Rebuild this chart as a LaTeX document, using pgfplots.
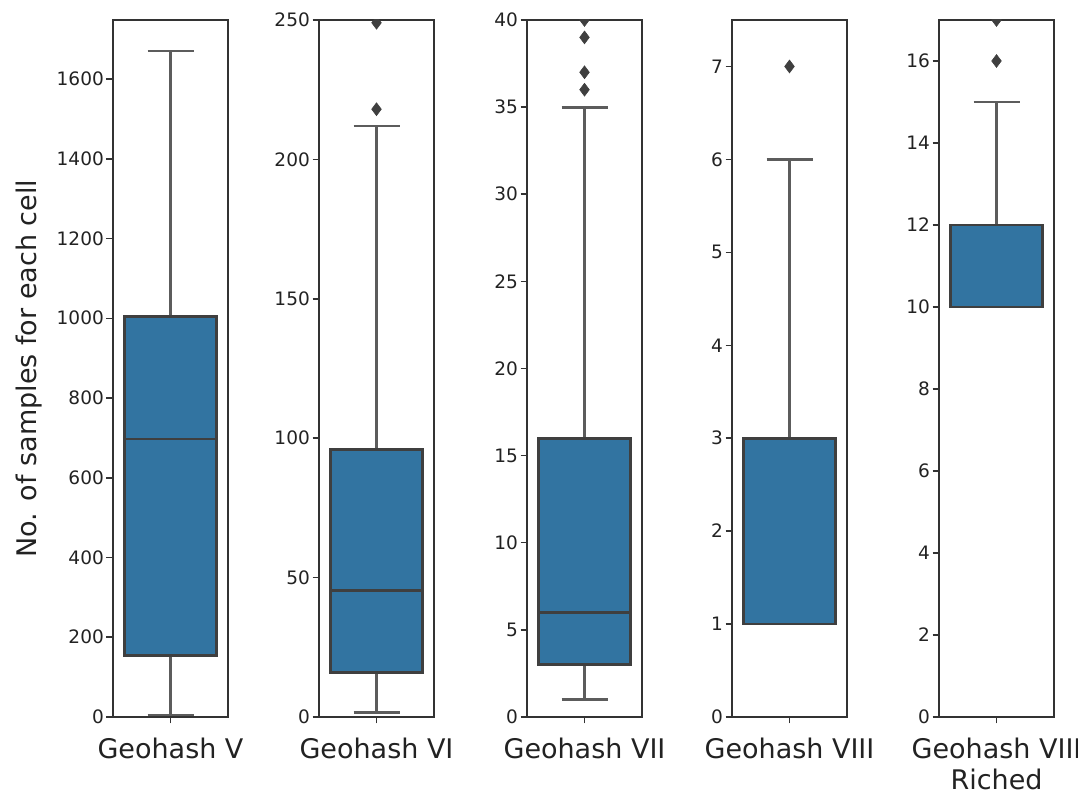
\documentclass[border=0pt]{standalone}
\usepackage{pgfplots}
\pgfplotsset{compat=1.18}
\usepackage{fontspec}
\setmainfont{DejaVu Sans}
\definecolor{sbblue}{HTML}{3274A1}
\definecolor{sbgray}{HTML}{3F3F3F}
\definecolor{axgray}{HTML}{333333}
\definecolor{txt}{HTML}{222222}
\pgfplotsset{
  mybox/.style={
    scale only axis, width=115pt, height=697pt, anchor=south west,
    ymin=0, xmin=-0.5, xmax=0.5, xtick={0},
    axis line style={draw=axgray, line width=1.5pt},
    tick style={draw=axgray, line width=1.5pt},
    major tick length=6.5pt, tick align=outside, tick pos=left,
    minor tick num=0,
    clip marker paths=true,
    scaled y ticks=false,
    /pgf/number format/assume math mode=true,
    /pgf/number format/1000 sep={},
    yticklabel style={font=\fontsize{18.5}{21}\selectfont, text=txt, inner sep=0pt, xshift=-2.5pt},
    xticklabel style={font=\fontsize{27}{31}\selectfont, text=txt, align=center, inner sep=0pt, anchor=north, yshift=-14pt},
  },
  wh/.style={draw=sbgray!85!white, line width=2.8pt, no markers},
  bx/.style={fill=sbblue, draw=sbgray, line width=2.8pt, no markers},
  md/.style={draw=sbgray, line width=2.8pt, no markers},
  ol/.style={only marks, mark=diamond*, mark size=6.4pt, mark options={fill=sbgray, draw=sbgray, line width=0.6pt}},
}
\begin{document}
\begin{tikzpicture}
\path[use as bounding box] (0pt,0pt) rectangle (1078pt,794pt);
% Panel 1
\begin{axis}[mybox, at={(113pt,77pt)}, ymax=1748,
  ytick={0,200,400,600,800,1000,1200,1400,1600},
  xticklabels={Geohash V},
  ylabel={No. of samples for each cell},
  ylabel style={at={(axis description cs:-0.726,0.5)}, anchor=center, font=\fontsize{27}{31}\selectfont, text=txt, inner sep=0pt}]
\addplot[wh] coordinates {(0,1005) (0,1670)};
\addplot[wh] coordinates {(-0.2,1670) (0.2,1670)};
\addplot[wh] coordinates {(0,155) (0,5)};
\addplot[wh] coordinates {(-0.2,5) (0.2,5)};
\addplot[bx] coordinates {(-0.4,155) (0.4,155) (0.4,1005) (-0.4,1005)} -- cycle;
\addplot[md] coordinates {(-0.4,697) (0.4,697)};
\end{axis}
% Panel 2
\begin{axis}[mybox, at={(319pt,77pt)}, ymax=250,
  ytick={0,50,100,150,200,250},
  xticklabels={Geohash VI}]
\addplot[wh] coordinates {(0,96) (0,212)};
\addplot[wh] coordinates {(-0.2,212) (0.2,212)};
\addplot[wh] coordinates {(0,16) (0,1.5)};
\addplot[wh] coordinates {(-0.2,1.5) (0.2,1.5)};
\addplot[bx] coordinates {(-0.4,16) (0.4,16) (0.4,96) (-0.4,96)} -- cycle;
\addplot[md] coordinates {(-0.4,45.5) (0.4,45.5)};
\addplot[ol] coordinates {(0,218) (0,249)};
\end{axis}
% Panel 3
\begin{axis}[mybox, at={(527pt,77pt)}, ymax=40,
  ytick={0,5,10,15,20,25,30,35,40},
  xticklabels={Geohash VII}]
\addplot[wh] coordinates {(0,16) (0,35)};
\addplot[wh] coordinates {(-0.2,35) (0.2,35)};
\addplot[wh] coordinates {(0,3) (0,1)};
\addplot[wh] coordinates {(-0.2,1) (0.2,1)};
\addplot[bx] coordinates {(-0.4,3) (0.4,3) (0.4,16) (-0.4,16)} -- cycle;
\addplot[md] coordinates {(-0.4,6) (0.4,6)};
\addplot[ol] coordinates {(0,36) (0,37) (0,39) (0,40)};
\end{axis}
% Panel 4
\begin{axis}[mybox, at={(732pt,77pt)}, ymax=7.5,
  ytick={0,1,2,3,4,5,6,7},
  xticklabels={Geohash VIII}]
\addplot[wh] coordinates {(0,3) (0,6)};
\addplot[wh] coordinates {(-0.2,6) (0.2,6)};
\addplot[bx] coordinates {(-0.4,1) (0.4,1) (0.4,3) (-0.4,3)} -- cycle;
\addplot[md] coordinates {(-0.4,1) (0.4,1)};
\addplot[ol] coordinates {(0,7)};
\end{axis}
% Panel 5
\begin{axis}[mybox, at={(939pt,77pt)}, ymax=17,
  ytick={0,2,4,6,8,10,12,14,16},
  xticklabels={{Geohash VIII\\Riched}}]
\addplot[wh] coordinates {(0,12) (0,15)};
\addplot[wh] coordinates {(-0.2,15) (0.2,15)};
\addplot[bx] coordinates {(-0.4,10) (0.4,10) (0.4,12) (-0.4,12)} -- cycle;
\addplot[md] coordinates {(-0.4,10) (0.4,10)};
\addplot[ol] coordinates {(0,16) (0,17)};
\end{axis}
\end{tikzpicture}
\end{document}
